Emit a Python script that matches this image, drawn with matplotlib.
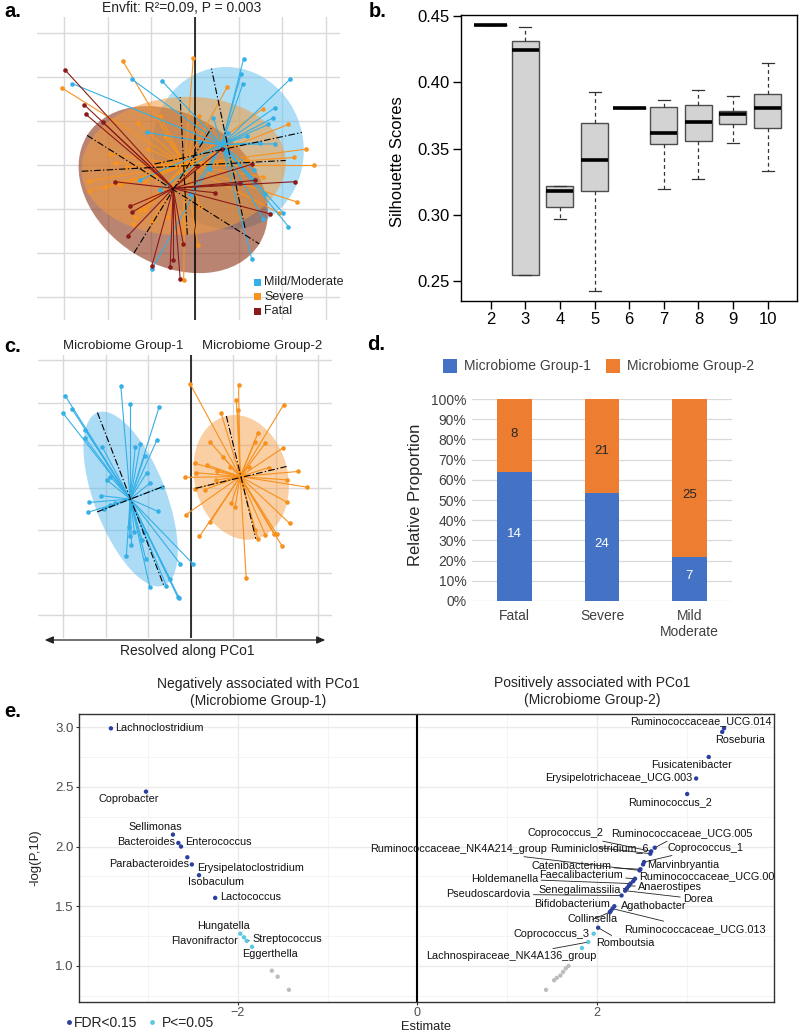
import numpy as np
import matplotlib
matplotlib.use("Agg")
import matplotlib.pyplot as plt
from matplotlib.patches import Ellipse, Rectangle

plt.rcParams['font.family'] = ['Liberation Sans', 'DejaVu Sans']

# ---------------- DATA ----------------
# Panel a: PCoA coloured by severity
a_groups = ['Mild/Moderate', 'Severe', 'Fatal']
a_mild_x = [1.11, 1.05, 1.09, 2.18, -0.76, -1.45, -2.82, 1.83, 1.79, 1.68, 1.49, 1.83, 1.18, 0.42, -1.11,
            0.11, 0.76, 1.34, 1.37, 1.60, 2.02, 2.14, 1.56, 1.30, -0.99, -0.80, -1.27, -0.11, 0.34, 0.95, 0.73]
a_mild_y = [2.40, 2.06, 1.83, 1.95, 1.91, 1.95, 1.85, 1.30, 1.07, 0.92, 0.51, 0.48, 0.65, 1.07, 0.74,
            0.52, 0.73, -0.11, -0.34, -0.65, -1.09, -1.40, -1.22, -2.14, -2.37, -0.57, -0.34, -0.65, -0.08, -0.42, 0.27]
a_severe_x = [-1.66, -0.04, 0.73, 1.56, 2.14, 2.54, 2.27, 2.73, 2.33, 1.93, 0.10, -0.80, -1.31, -1.07, -1.95,
              -1.83, -2.42, -2.44, -2.06, -1.72, -1.18, -0.78, -1.26, -1.37, -1.15, -1.41, -0.99, -0.61, -0.26, -0.29,
              0.06, 0.11, 0.97, 1.18, 1.56, 0.42, -1.56, -3.05, -0.69, -0.90]
a_severe_y = [2.37, 2.42, 1.76, 1.28, 0.92, 0.36, 0.17, 0.0, -0.84, -1.09, 1.11, 1.11, 0.95, 0.36, 0.25,
              0.05, -0.36, -0.59, -0.51, -0.46, -0.38, 0.0, -1.03, -1.18, -1.03, -1.35, -1.27, -1.17, -2.62, -1.79,
              -1.82, -0.95, 0.48, 0.11, -0.27, 0.11, -0.04, 1.75, 0.65, -0.23]
a_fatal_x = [-2.98, -2.54, -2.50, -2.11, -1.83, -1.49, -1.44, -1.54, -0.99, -0.57, -0.50, -0.34, -0.27, 0.04,
             0.61, 1.31, 1.37, 2.29, 1.72, 1.03, 0.46]
a_fatal_y = [2.16, 1.37, 1.15, 0.97, -0.38, -0.94, -1.07, -1.61, -2.29, -2.31, -2.16, -2.60, -1.79, -0.02,
             0.36, 0.02, -0.35, -0.38, -1.11, -0.42, -0.63]
a_centroids = [(0.61, 0.46), (-0.23, 0.0), (-0.50, -0.53)]
a_ell_center = [(0.76, 0.38), (-0.26, -0.02), (-0.50, -0.56)]
a_ell_width = [3.45, 4.68, 4.65]
a_ell_height = [3.70, 3.13, 3.40]
a_ell_angle = [12, 3, -32]

# Panel b: silhouette scores per k
b_k = [2, 3, 4, 5, 6, 7, 8, 9, 10]
b_whislo = [0.4432, 0.2545, 0.2968, 0.2430, 0.3808, 0.3197, 0.3272, 0.3542, 0.3333]
b_q1 = [0.4432, 0.2545, 0.3061, 0.3184, 0.3808, 0.3536, 0.3554, 0.3685, 0.3652]
b_med = [0.4432, 0.4243, 0.3182, 0.3418, 0.3808, 0.3619, 0.3703, 0.3760, 0.3803]
b_q3 = [0.4432, 0.4314, 0.3222, 0.3697, 0.3808, 0.3811, 0.3831, 0.3783, 0.3909]
b_whishi = [0.4432, 0.4414, 0.3222, 0.3929, 0.3808, 0.3866, 0.3939, 0.3899, 0.4148]
b_yticks = [0.25, 0.30, 0.35, 0.40, 0.45]

# Panel c: PCoA coloured by microbiome group
c_groups = ['Microbiome Group-1', 'Microbiome Group-2']
c_g1_x = [-2.96, -3.01, -2.80, -1.65, -1.43, -0.75, -0.80, -1.19, -1.31, -1.09, -1.04, -0.97, -0.67, -2.09,
          -1.98, -1.90, -2.12, -2.39, -2.42, -2.05, -1.90, -1.78, -0.78, -2.49, -2.49, -1.45, -1.44, -1.40,
          -1.52, -1.06, -1.33, -1.11, -0.97, -0.58, -0.49, -0.25, 0.06, -0.31, -0.27, -1.15]
c_g1_y = [2.16, 1.75, 1.85, 2.38, 1.96, 1.89, 1.12, 1.03, 0.96, 0.75, 0.35, 0.10, 0.02, 0.96,
          0.18, 0.26, -0.19, -0.35, -0.58, -0.50, -0.41, -0.37, -0.56, 1.16, 1.36, -0.93, -1.15, -1.35,
          -1.60, -1.69, -1.04, -1.04, -2.33, -2.31, -2.16, -1.80, -1.81, -2.58, -2.61, -1.23]
c_g2_x = [-0.02, 1.12, 1.07, 1.10, 2.18, 0.71, 1.58, 1.51, 1.75, 2.16, 0.45, 0.75, 0.93, 0.10,
          0.38, 0.61, 0.11, -0.13, 0.10, 0.32, 0.60, 1.36, 1.83, 2.27, 2.53, 2.73, 2.27, 2.32,
          2.14, 2.02, 1.95, 1.75, 1.58, 1.51, 1.30, 0.20, 0.45, -0.12, 0.95, 1.04]
c_g2_y = [2.44, 2.42, 2.06, 1.83, 1.95, 1.75, 1.29, 1.08, 1.04, 0.93, 1.07, 0.73, 0.49, 0.57,
          0.53, 0.38, 0.35, 0.24, -0.03, -0.05, 0.18, 0.49, 0.47, 0.18, 0.38, 0.01, -0.35, -0.84,
          -1.37, -1.09, -1.09, -1.11, -1.22, -1.00, -2.12, -1.15, -0.82, -0.64, -0.37, -0.45]
c_centroids = [(-1.43, -0.27), (1.16, 0.26)]
c_ell_center = [(-1.42, -0.27), (1.18, 0.24)]
c_ell_width = [4.36, 2.97]
c_ell_height = [1.69, 2.20]
c_ell_angle = [-69, -76.5]

# Panel d: group composition per severity
d_categories = ['Fatal', 'Severe', 'Mild\nModerate']
d_group1 = [14, 24, 7]
d_group2 = [8, 21, 25]
d_yticks = [0, 10, 20, 30, 40, 50, 60, 70, 80, 90, 100]

# Panel e: association with PCo1
e_neg_names = ['Lachnoclostridium', 'Coprobacter', 'Sellimonas', 'Bacteroides', 'Enterococcus',
               'Erysipelatoclostridium', 'Parabacteroides', 'Isobaculum', 'Lactococcus',
               'Hungatella', 'Flavonifractor', 'Streptococcus', 'Eggerthella']
e_neg_est = [-3.41, -3.02, -2.72, -2.66, -2.63, -2.56, -2.51, -2.43, -2.25, -1.97, -1.93, -1.90, -1.84]
e_neg_logp = [2.99, 2.46, 2.10, 2.03, 2.00, 1.91, 1.85, 1.76, 1.57, 1.27, 1.24, 1.21, 1.16]
e_neg_sig = ['FDR'] * 9 + ['P'] * 4

e_pos_names = ['Ruminococcaceae_UCG.014', 'Roseburia', 'Fusicatenibacter', 'Erysipelotrichaceae_UCG.003',
               'Ruminococcus_2', 'Ruminococcaceae_UCG.005', 'Coprococcus_2', 'Ruminiclostridium_6',
               'Coprococcus_1', 'Marvinbryantia', 'Catenibacterium', 'Ruminococcaceae_NK4A214_group',
               'Faecalibacterium', 'Ruminococcaceae_UCG.002', 'Holdemanella', 'Anaerostipes',
               'Senegalimassilia', 'Dorea', 'Pseudoscardovia', 'Agathobacter', 'Ruminococcaceae_UCG.013',
               'Bifidobacterium', 'Collinsella', 'Romboutsia', 'Coprococcus_3', 'Lachnospiraceae_NK4A136_group']
e_pos_est = [3.41, 3.39, 3.24, 3.10, 3.00, 2.64, 2.60, 2.59, 2.52, 2.51, 2.48, 2.47, 2.42, 2.40, 2.37,
             2.35, 2.33, 2.31, 2.27, 2.19, 2.17, 2.15, 2.14, 2.01, 1.96, 1.90]
e_pos_logp = [2.99, 2.96, 2.75, 2.57, 2.44, 1.99, 1.96, 1.94, 1.87, 1.85, 1.81, 1.80, 1.73, 1.71, 1.69,
              1.67, 1.65, 1.63, 1.59, 1.50, 1.48, 1.46, 1.45, 1.32, 1.27, 1.20]
e_pos_sig = ['FDR'] * 24 + ['P'] * 2
e_unlab_est = [1.83]
e_unlab_logp = [1.15]
e_ns_est = [-1.62, -1.555, -1.43, 1.68, 1.65, 1.62, 1.59, 1.55, 1.52, 1.43]
e_ns_logp = [0.96, 0.91, 0.80, 1.00, 0.98, 0.95, 0.92, 0.90, 0.88, 0.80]

# ---------------- LAYOUT / STYLE ----------------
W, H = 800, 1031
fig = plt.figure(figsize=(W / 100, H / 100), dpi=100)


def rect(x0, y0, x1, y1):
    return [x0 / W, 1 - y1 / H, (x1 - x0) / W, (y1 - y0) / H]


def ftext(px, py, s, **kw):
    return fig.text(px / W, 1 - py / H, s, **kw)


def fsquare(px, py, size, color):
    fig.add_artist(Rectangle((px / W, 1 - (py + size) / H), size / W, size / H,
                             transform=fig.transFigure, facecolor=color, edgecolor='none'))


DASHDOT = (0, (6, 2, 1.2, 2))


def ell(ax, center, width, height, angle, color, alpha, z):
    ax.add_patch(Ellipse(center, width, height, angle=angle, facecolor=color, alpha=alpha,
                         edgecolor='none', zorder=z))


def ell_axes(ax, center, width, height, angle):
    t = np.deg2rad(angle)
    a, b = width / 2, height / 2
    cx, cy = center
    ax.plot([cx - a * np.cos(t), cx + a * np.cos(t)], [cy - a * np.sin(t), cy + a * np.sin(t)],
            color='black', lw=0.8, ls=DASHDOT, zorder=6)
    ax.plot([cx + b * np.sin(t), cx - b * np.sin(t)], [cy - b * np.cos(t), cy + b * np.cos(t)],
            color='black', lw=0.8, ls=DASHDOT, zorder=6)


def spider(ax, xs, ys, c, color, z):
    for x, y in zip(xs, ys):
        ax.plot([c[0], x], [c[1], y], color=color, lw=0.8, zorder=z)
    ax.plot(xs, ys, 'o', color=color, ms=3.3, mec='none', zorder=z + 0.1)


def ord_axes(ax, xlim, ylim):
    ax.set_xlim(*xlim)
    ax.set_ylim(*ylim)
    ax.set_xticks(range(-3, 4))
    ax.set_yticks(range(-3, 4))
    ax.grid(True, color='#d9d9d9', lw=1.0)
    ax.set_axisbelow(True)
    ax.tick_params(length=0, labelbottom=False, labelleft=False)
    for s in ax.spines.values():
        s.set_visible(False)
    ax.axvline(0, color='black', lw=1.1, zorder=2.5)


# ---------------- PANEL a ----------------
axa = fig.add_axes(rect(37, 17, 340, 320))
ord_axes(axa, (-3.62, 3.32), (-3.52, 3.36))
a_line_cols = ['#33b1e6', '#f7931e', '#8b1a1a']
a_fill_cols = ['#6cc3ef', '#f49a3c', '#8e3a1c']
a_fill_alpha = [0.55, 0.55, 0.62]
a_fill_z = [1, 1.4, 1.2]
for i in range(3):
    ell(axa, a_ell_center[i], a_ell_width[i], a_ell_height[i], a_ell_angle[i],
        a_fill_cols[i], a_fill_alpha[i], a_fill_z[i])
order_z = {1: 3.0, 0: 3.2, 2: 3.4}
a_xs = [a_mild_x, a_severe_x, a_fatal_x]
a_ys = [a_mild_y, a_severe_y, a_fatal_y]
for i in [1, 0, 2]:
    spider(axa, a_xs[i], a_ys[i], a_centroids[i], a_line_cols[i], order_z[i])
for i in range(3):
    ell_axes(axa, a_ell_center[i], a_ell_width[i], a_ell_height[i], a_ell_angle[i])

ftext(182, 8, 'Envfit: R²=0.09, P = 0.003', ha='center', va='center', fontsize=10, color='#222222')
for i, lab in enumerate(a_groups):
    yy = 282 + i * 14.5
    fsquare(254, yy - 3.5, 7, a_line_cols[i])
    ftext(264, yy, lab, ha='left', va='center', fontsize=9, color='#222222')

# ---------------- PANEL b ----------------
axb = fig.add_axes(rect(461, 15, 797, 301))
stats = []
for i in range(len(b_k)):
    stats.append(dict(med=b_med[i], q1=b_q1[i], q3=b_q3[i], whislo=b_whislo[i],
                      whishi=b_whishi[i], fliers=[]))
widths = [0.96 if b_q1[i] == b_q3[i] else 0.78 for i in range(len(b_k))]
axb.bxp(stats, positions=b_k, widths=widths, capwidths=0.35, patch_artist=True, showfliers=False,
        boxprops=dict(facecolor='#d3d3d3', edgecolor='#4d4d4d', lw=1.0),
        medianprops=dict(color='black', lw=2.6, solid_capstyle='butt'),
        whiskerprops=dict(color='#333333', lw=0.9, ls=(0, (3, 2.5))),
        capprops=dict(color='#333333', lw=0.9))
axb.set_xlim(1.14, 10.85)
axb.set_ylim(0.2351, 0.4508)
axb.set_yticks(b_yticks)
axb.set_yticklabels(['%.2f' % v for v in b_yticks])
axb.set_xticks(b_k)
axb.set_xticklabels([str(k) for k in b_k])
axb.tick_params(direction='out', length=6, width=1, labelsize=12, pad=2)
for s in axb.spines.values():
    s.set_linewidth(1.0)
ftext(398, 162, 'Silhouette Scores', rotation=90, ha='center', va='center', fontsize=12)

# ---------------- PANEL c ----------------
axc = fig.add_axes(rect(38, 355, 332, 638))
ord_axes(axc, (-3.6, 3.32), (-3.54, 3.12))
c_line_cols = ['#35b0e6', '#f7911e']
c_fill_cols = ['#5ab9ee', '#f7a04a']
c_xs = [c_g1_x, c_g2_x]
c_ys = [c_g1_y, c_g2_y]
for i in range(2):
    ell(axc, c_ell_center[i], c_ell_width[i], c_ell_height[i], c_ell_angle[i], c_fill_cols[i], 0.5, 1)
    spider(axc, c_xs[i], c_ys[i], c_centroids[i], c_line_cols[i], 3)
    ell_axes(axc, c_ell_center[i], c_ell_width[i], c_ell_height[i], c_ell_angle[i])
ftext(123, 346, c_groups[0], ha='center', va='center', fontsize=9.5, color='#222222')
ftext(262, 346, c_groups[1], ha='center', va='center', fontsize=9.5, color='#222222')
fig.add_artist(matplotlib.patches.FancyArrowPatch(
    (42 / W, 1 - 640 / H), (328 / W, 1 - 640 / H), transform=fig.transFigure,
    arrowstyle='<|-|>,head_length=5,head_width=2.2', color='#222222', lw=0.9))
ftext(187, 651, 'Resolved along PCo1', ha='center', va='center', fontsize=10, color='#222222')

# ---------------- PANEL d ----------------
axd = fig.add_axes(rect(472, 399, 732, 601))
g1 = np.array(d_group1, dtype=float)
g2 = np.array(d_group2, dtype=float)
frac1 = g1 / (g1 + g2)
frac2 = g2 / (g1 + g2)
xpos = np.arange(len(d_categories))
axd.bar(xpos, frac1, width=0.4, color='#4472c4', zorder=3)
axd.bar(xpos, frac2, bottom=frac1, width=0.4, color='#ed7d31', zorder=3)
axd.set_xlim(-0.486, 2.486)
axd.set_ylim(0, 1)
axd.set_yticks([v / 100 for v in d_yticks])
axd.set_yticklabels(['%d%%' % v for v in d_yticks])
axd.yaxis.grid(True, color='#d9d9d9', lw=0.9)
axd.set_axisbelow(True)
for s in axd.spines.values():
    s.set_visible(False)
axd.set_xticks(xpos)
axd.set_xticklabels(d_categories, linespacing=1.15)
axd.tick_params(length=0, labelsize=10, labelcolor='#404040')
axd.tick_params(axis='y', pad=4)
axd.tick_params(axis='x', pad=6)
d_lab2_frac = [0.826, 0.745, 0.525]
d_lab1_frac = [0.334, 0.28, 0.124]
for i in range(3):
    axd.text(xpos[i], d_lab1_frac[i], str(d_group1[i]), ha='center', va='center', color='white', fontsize=9.5, zorder=4)
    axd.text(xpos[i], d_lab2_frac[i], str(d_group2[i]), ha='center', va='center', color='#262626', fontsize=9.5, zorder=4)
ftext(415, 495, 'Relative Proportion', rotation=90, ha='center', va='center', fontsize=12, color='#262626')
fsquare(443, 359, 14, '#4472c4')
ftext(464, 366, 'Microbiome Group-1', ha='left', va='center', fontsize=10, color='#404040')
fsquare(606, 359, 14, '#ed7d31')
ftext(627, 366, 'Microbiome Group-2', ha='left', va='center', fontsize=10, color='#404040')

# ---------------- PANEL e ----------------
axe = fig.add_axes(rect(79, 714, 774, 1002))
axe.set_xlim(-3.765, 3.966)
axe.set_ylim(0.698, 3.11)
axe.set_xticks([-2, 0, 2])
axe.set_xticks([-3, -1, 1, 3], minor=True)
axe.set_yticks([1.0, 1.5, 2.0, 2.5, 3.0])
axe.set_yticklabels(['1.0', '1.5', '2.0', '2.5', '3.0'])
axe.set_yticks([0.75, 1.25, 1.75, 2.25, 2.75], minor=True)
axe.grid(which='major', color='#ebebeb', lw=1.0)
axe.grid(which='minor', color='#f3f3f3', lw=0.6)
axe.set_axisbelow(True)
axe.tick_params(which='minor', length=0)
axe.tick_params(which='major', length=2.5, color='#333333', labelsize=9.5, labelcolor='#4d4d4d', pad=1.5)
axe.tick_params(axis='x', labelsize=9, pad=1)
for s in axe.spines.values():
    s.set_color('#333333')
    s.set_linewidth(1.0)
axe.axvline(0, color='black', lw=1.5, zorder=2)

col_fdr = '#2b3f9e'
col_p = '#5ec8e0'
col_ns = '#bdbdbd'
axe.scatter(e_ns_est, e_ns_logp, s=10, color=col_ns, edgecolors='none', zorder=3)
all_names = e_neg_names + e_pos_names
all_est = e_neg_est + e_pos_est
all_logp = e_neg_logp + e_pos_logp
all_sig = e_neg_sig + e_pos_sig
cols = [col_fdr if s == 'FDR' else col_p for s in all_sig]
axe.scatter(all_est, all_logp, s=10, color=cols, edgecolors='none', zorder=4)
axe.scatter(e_unlab_est, e_unlab_logp, s=10, color=col_p, edgecolors='none', zorder=4)

e_label_pos = {
    'Lachnoclostridium': (-3.36, 2.99, 'left'), 'Coprobacter': (-3.21, 2.40, 'center'),
    'Sellimonas': (-2.92, 2.16, 'center'), 'Bacteroides': (-2.695, 2.04, 'right'),
    'Enterococcus': (-2.58, 2.04, 'left'), 'Erysipelatoclostridium': (-2.45, 1.82, 'left'),
    'Parabacteroides': (-2.545, 1.85, 'right'), 'Isobaculum': (-2.24, 1.70, 'center'),
    'Lactococcus': (-2.20, 1.58, 'left'), 'Hungatella': (-2.16, 1.335, 'center'),
    'Flavonifractor': (-2.0, 1.21, 'right'), 'Streptococcus': (-1.84, 1.225, 'left'),
    'Eggerthella': (-1.64, 1.10, 'center'),
    'Ruminococcaceae_UCG.014': (3.15, 3.05, 'center'), 'Roseburia': (3.59, 2.89, 'center'),
    'Fusicatenibacter': (3.05, 2.68, 'center'), 'Erysipelotrichaceae_UCG.003': (3.06, 2.57, 'right'),
    'Ruminococcus_2': (2.81, 2.37, 'center'), 'Ruminococcaceae_UCG.005': (2.94, 2.11, 'center'),
    'Coprococcus_2': (1.65, 2.11, 'center'), 'Ruminiclostridium_6': (2.02, 1.99, 'center'),
    'Coprococcus_1': (3.20, 1.99, 'center'), 'Marvinbryantia': (2.96, 1.845, 'center'),
    'Catenibacterium': (1.71, 1.84, 'center'), 'Ruminococcaceae_NK4A214_group': (1.44, 1.98, 'right'),
    'Faecalibacterium': (1.82, 1.765, 'center'), 'Ruminococcaceae_UCG.002': (2.47, 1.752, 'left'),
    'Holdemanella': (0.97, 1.73, 'center'), 'Anaerostipes': (2.81, 1.665, 'center'),
    'Senegalimassilia': (1.80, 1.64, 'center'), 'Dorea': (3.12, 1.56, 'center'),
    'Pseudoscardovia': (0.79, 1.60, 'center'), 'Agathobacter': (2.63, 1.50, 'center'),
    'Ruminococcaceae_UCG.013': (3.09, 1.31, 'center'), 'Bifidobacterium': (1.72, 1.52, 'center'),
    'Collinsella': (1.95, 1.39, 'center'), 'Romboutsia': (2.31, 1.19, 'center'),
    'Coprococcus_3': (1.49, 1.27, 'center'), 'Lachnospiraceae_NK4A136_group': (1.04, 1.08, 'center'),
}
e_segments = {'Streptococcus', 'Ruminococcaceae_UCG.005', 'Coprococcus_2', 'Ruminiclostridium_6',
              'Coprococcus_1', 'Catenibacterium', 'Ruminococcaceae_NK4A214_group', 'Faecalibacterium',
              'Holdemanella', 'Senegalimassilia', 'Dorea', 'Pseudoscardovia', 'Collinsella',
              'Ruminococcaceae_UCG.013', 'Romboutsia', 'Lachnospiraceae_NK4A136_group', 'Anaerostipes'}
for name, x, y in zip(all_names, all_est, all_logp):
    tx, ty, ha = e_label_pos[name]
    if name in e_segments:
        axe.annotate(name, xy=(x, y), xytext=(tx, ty), textcoords='data', ha=ha, va='center',
                     fontsize=7.8, color='#111111', zorder=5,
                     arrowprops=dict(arrowstyle='-', color='#222222', lw=0.6, shrinkA=0, shrinkB=1.5))
    else:
        axe.text(tx, ty, name, ha=ha, va='center', fontsize=7.8, color='#111111', zorder=5, clip_on=True)

ftext(258, 684, 'Negatively associated with PCo1', ha='center', va='center', fontsize=10, color='#222222')
ftext(258, 701, '(Microbiome Group-1)', ha='center', va='center', fontsize=10, color='#222222')
ftext(592, 683, 'Positively associated with PCo1', ha='center', va='center', fontsize=10, color='#222222')
ftext(592, 700, '(Microbiome Group-2)', ha='center', va='center', fontsize=10, color='#222222')
ftext(35, 858, '-log(P,10)', rotation=90, ha='center', va='center', fontsize=9.5, color='#222222')
ftext(426, 1029.5, 'Estimate', ha='center', va='baseline', fontsize=9.3, color='#222222')
fig.add_artist(matplotlib.lines.Line2D([69 / W], [1 - 1022 / H], marker='o', ms=3.5, color=col_fdr,
                                       mec='none', transform=fig.transFigure))
ftext(74, 1023, 'FDR<0.15', ha='left', va='center', fontsize=10, color='#222222')
fig.add_artist(matplotlib.lines.Line2D([152 / W], [1 - 1022 / H], marker='o', ms=3.5, color=col_p,
                                       mec='none', transform=fig.transFigure))
ftext(162, 1023, 'P<=0.05', ha='left', va='center', fontsize=10, color='#222222')

# ---------------- panel letters ----------------
for lab, px, py in [('a.', 4, 17), ('b.', 369, 17), ('c.', 4, 352), ('d.', 367, 350), ('e.', 4, 717)]:
    ftext(px, py, lab, ha='left', va='baseline', fontsize=14.5, fontweight='bold')

fig.savefig('out.png', dpi=100)
